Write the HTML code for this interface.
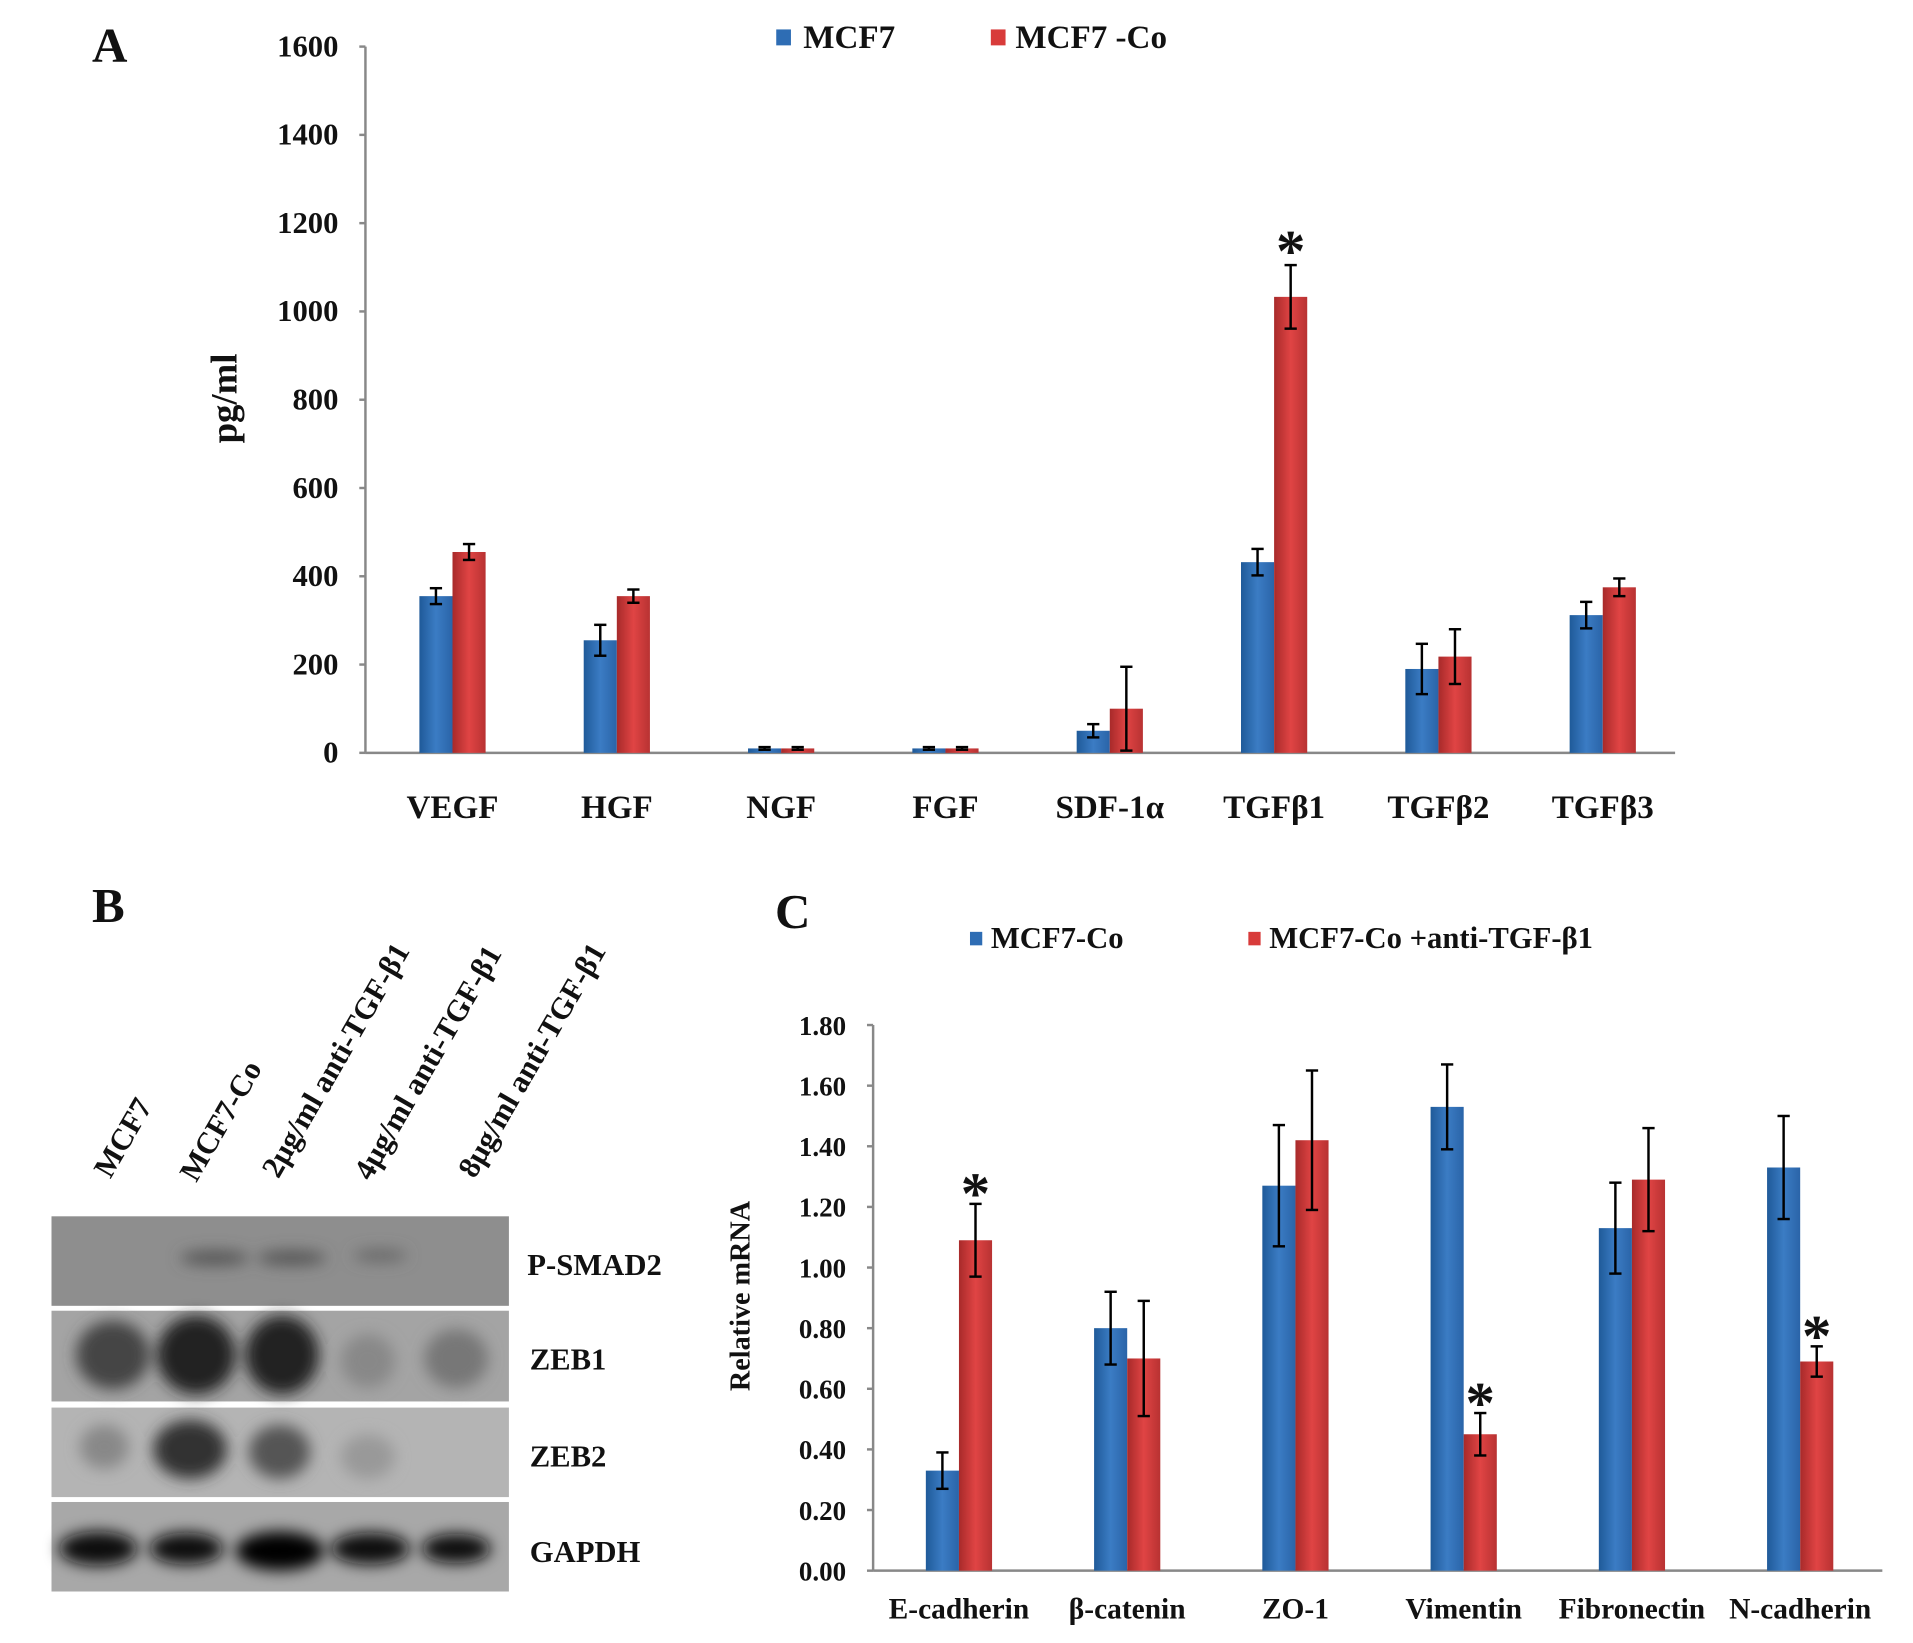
<!DOCTYPE html>
<html><head><meta charset="utf-8"><style>
body{margin:0;background:#fff}
svg{display:block}
text{font-family:"Liberation Serif",serif;font-weight:bold;fill:#111}
</style></head><body>
<svg id="fig" width="1913" height="1643" viewBox="0 0 1560 1340" preserveAspectRatio="none" xmlns="http://www.w3.org/2000/svg">
<defs>
<filter id="blur" x="-50%" y="-50%" width="200%" height="200%"><feGaussianBlur stdDeviation="6"/></filter>
<linearGradient id="gb" x1="0" x2="1"><stop offset="0" stop-color="#1f5a99"/><stop offset="0.5" stop-color="#3b7cc4"/><stop offset="1" stop-color="#2a64a8"/></linearGradient>
<linearGradient id="gr" x1="0" x2="1"><stop offset="0" stop-color="#a82a2a"/><stop offset="0.5" stop-color="#e04444"/><stop offset="1" stop-color="#b83232"/></linearGradient>
</defs>
<g id="chartA"></g>
<g id="chartC"></g>
<g id="blot">
  <text x="75" y="752" font-size="40">B</text>
  <rect x="42" y="992" width="373" height="73" fill="#8e8e8e"/>
  <rect x="42" y="1069" width="373" height="74" fill="#a4a4a4"/>
  <rect x="42" y="1148" width="373" height="73" fill="#b4b4b4"/>
  <rect x="42" y="1225" width="373" height="73" fill="#a8a8a8"/>
  <g filter="url(#blur)">
    <ellipse cx="175" cy="1026" rx="28" ry="6" fill="#555"/>
    <ellipse cx="238" cy="1026" rx="28" ry="6" fill="#555"/>
    <ellipse cx="310" cy="1024" rx="22" ry="5" fill="#666"/>
    <ellipse cx="92" cy="1105" rx="30" ry="28" fill="#444"/>
    <ellipse cx="160" cy="1105" rx="32" ry="32" fill="#222"/>
    <ellipse cx="230" cy="1105" rx="30" ry="32" fill="#222"/>
    <ellipse cx="300" cy="1110" rx="22" ry="22" fill="#888"/>
    <ellipse cx="372" cy="1108" rx="26" ry="24" fill="#777"/>
    <ellipse cx="85" cy="1180" rx="20" ry="18" fill="#888"/>
    <ellipse cx="155" cy="1182" rx="30" ry="24" fill="#333"/>
    <ellipse cx="228" cy="1184" rx="25" ry="22" fill="#555"/>
    <ellipse cx="300" cy="1188" rx="22" ry="18" fill="#999"/>
    <ellipse cx="80" cy="1263" rx="32" ry="14" fill="#111"/>
    <ellipse cx="152" cy="1263" rx="30" ry="13" fill="#111"/>
    <ellipse cx="228" cy="1265" rx="36" ry="16" fill="#000"/>
    <ellipse cx="302" cy="1263" rx="32" ry="13" fill="#111"/>
    <ellipse cx="372" cy="1263" rx="28" ry="12" fill="#111"/>
  </g>
  <text x="430" y="1040" font-size="25">P-SMAD2</text>
  <text x="432" y="1117" font-size="25">ZEB1</text>
  <text x="432" y="1196" font-size="25">ZEB2</text>
  <text x="432" y="1274" font-size="25">GAPDH</text>
  <g font-size="25">
  <text transform="translate(90,962) rotate(-60)" font-weight="normal">MCF7</text>
  <text transform="translate(160,965) rotate(-60)" font-weight="normal">MCF7-Co</text>
  <text transform="translate(227,962) rotate(-60)" font-weight="normal">2μg/ml anti-TGF-β1</text>
  <text transform="translate(302,964) rotate(-60)" font-weight="normal">4μg/ml anti-TGF-β1</text>
  <text transform="translate(387,962) rotate(-60)" font-weight="normal">8μg/ml anti-TGF-β1</text>
  </g>
</g>
</svg>
<script>
const aCats=["VEGF","HGF","NGF","FGF","SDF-1α","TGFβ1","TGFβ2","TGFβ3"];
const aMcf7=[355,255,10,10,50,432,190,312];
const aMcf7Err=[18,35,3,3,15,30,57,30];
const aCo=[455,355,10,10,100,1033,218,375];
const aCoErr=[18,15,3,3,95,72,62,20];
const aTicks=[0,200,400,600,800,1000,1200,1400,1600];
const aStars=[5];

const cCats=["E-cadherin","β-catenin","ZO-1","Vimentin","Fibronectin","N-cadherin"];
const cCo=[0.33,0.80,1.27,1.53,1.13,1.33];
const cCoErr=[0.06,0.12,0.20,0.14,0.15,0.17];
const cAnti=[1.09,0.70,1.42,0.45,1.29,0.69];
const cAntiErr=[0.12,0.19,0.23,0.07,0.17,0.05];
const cTicks=["0.00","0.20","0.40","0.60","0.80","1.00","1.20","1.40","1.60","1.80"];
const cStars=[0,3,5];

const NS="http://www.w3.org/2000/svg";
function mk(p,t,a,txt){const e=document.createElementNS(NS,t);for(const k in a)e.setAttribute(k,a[k]);if(txt!==undefined)e.textContent=txt;p.appendChild(e);return e;}

function chart(g,o){
  const y=v=>o.y0-(v/o.max)*(o.y0-o.y1);
  const x=i=>o.xc0+i*o.step;
  let e=mk(g,"line",{x1:o.ax,y1:o.y1,x2:o.ax,y2:o.y0,stroke:"#888","stroke-width":2});
  
  
  e=mk(g,"line",{x1:o.ax,y1:o.y0,x2:o.axEnd,y2:o.y0,stroke:"#888","stroke-width":2});
  
  
  o.ticks.forEach(t=>{const v=parseFloat(t);
    mk(g,"line",{x1:o.ax-5,y1:y(v),x2:o.ax,y2:y(v),stroke:"#888","stroke-width":2});
    e=mk(g,"text",{x:o.ax-22,y:y(v)+8,"text-anchor":"end","font-size":o.tfs},t);
    
    
  });
  o.cats.forEach((c,i)=>{
    [[o.s1,o.e1,"url(#gb)",x(i)-o.bw],[o.s2,o.e2,"url(#gr)",x(i)]].forEach((s,k)=>{
      const v=s[0][i],er=s[1][i];
      e=mk(g,"rect",{x:s[3],y:y(v),width:o.bw,height:o.y0-y(v),fill:s[2]});
      
      
      const cx=s[3]+o.bw/2;
      mk(g,"line",{x1:cx,y1:y(v+er),x2:cx,y2:y(Math.max(0,v-er)),stroke:"#000","stroke-width":2});
      mk(g,"line",{x1:cx-5,y1:y(v+er),x2:cx+5,y2:y(v+er),stroke:"#000","stroke-width":2});
      mk(g,"line",{x1:cx-5,y1:y(Math.max(0,v-er)),x2:cx+5,y2:y(Math.max(0,v-er)),stroke:"#000","stroke-width":2});
    });
    e=mk(g,"text",{x:x(i)+(o.lx||0),y:o.ly,"text-anchor":"middle","font-size":o.cfs},c);
    
    
  });
  o.stars.forEach(i=>{const v=o.s2[i]+o.e2[i];
    e=mk(g,"text",{x:x(i)+o.bw/2,y:y(v)-10+o.starOff,"text-anchor":"middle","font-size":48},"*");
    
    
  });
}
const gA=document.getElementById("chartA"), gC=document.getElementById("chartC");
chart(gA,{y0:614,y1:38,max:1600,ax:298,axEnd:1366,xc0:369,step:134,bw:27,ticks:aTicks.map(String),tfs:25,cats:aCats,cfs:27,ly:667,s1:aMcf7,e1:aMcf7Err,s2:aCo,e2:aCoErr,stars:aStars,starOff:15});
chart(gC,{y0:1281,y1:836,max:1.8,ax:712,axEnd:1535,xc0:782,step:137.2,bw:27,ticks:cTicks,tfs:22,cats:cCats,cfs:24,ly:1320,s1:cCo,e1:cCoErr,s2:cAnti,e2:cAntiErr,stars:cStars,starOff:18});
let t;
t=mk(gA,"text",{x:75,y:50,"font-size":40},"A");
t=mk(gA,"text",{transform:"translate(193,325) rotate(-90)","text-anchor":"middle","font-size":30},"pg/ml");
t=mk(gA,"rect",{x:633,y:24,width:12,height:13,fill:"#2e6db4"});
t=mk(gA,"text",{x:655,y:39,"font-size":27},"MCF7");
t=mk(gA,"rect",{x:808,y:24,width:12,height:13,fill:"#d83b3a"});
t=mk(gA,"text",{x:828,y:39,"font-size":27},"MCF7 -Co");
t=mk(gC,"text",{x:632,y:757,"font-size":40},"C");
t=mk(gC,"text",{transform:"translate(611,1057) rotate(-90)","text-anchor":"middle","font-size":23},"Relative mRNA");
t=mk(gC,"rect",{x:791,y:760,width:10,height:11,fill:"#2e6db4"});
t=mk(gC,"text",{x:808,y:773,"font-size":25,"font-weight":"normal"},"MCF7-Co");
t=mk(gC,"rect",{x:1018,y:760,width:10,height:11,fill:"#d83b3a"});
t=mk(gC,"text",{x:1035,y:773,"font-size":25},"MCF7-Co +anti-TGF-β1");
</script>
</body></html>
